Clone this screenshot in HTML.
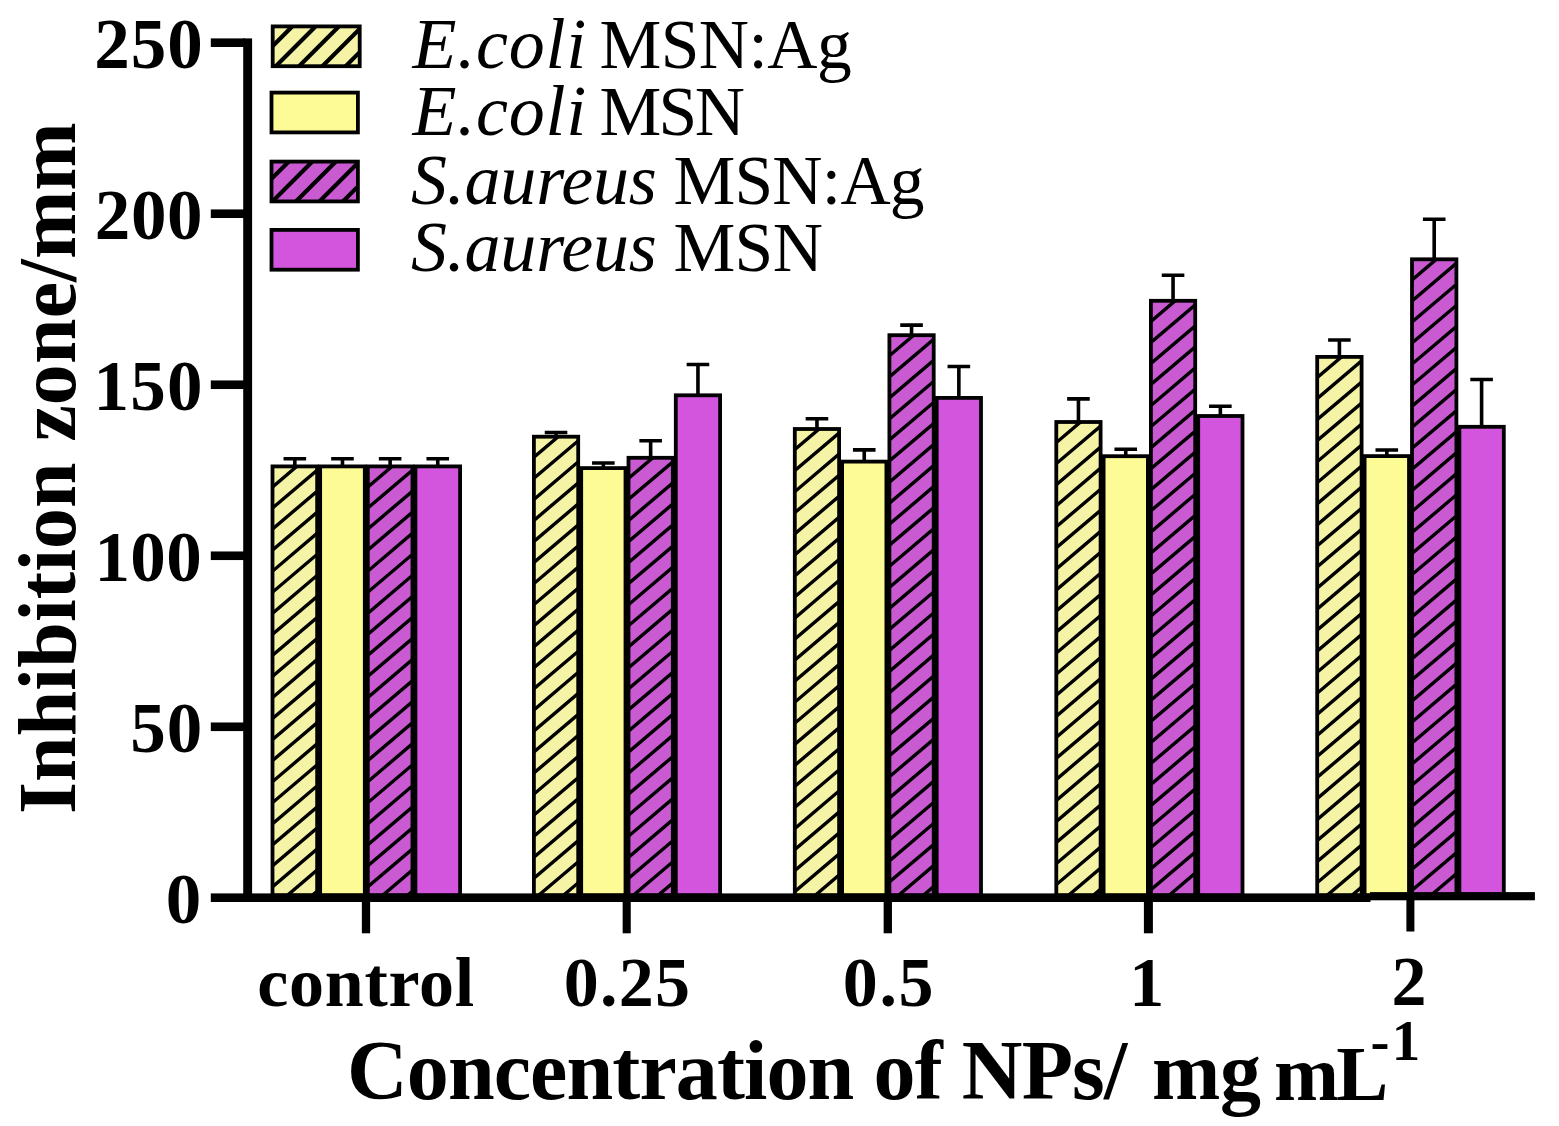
<!DOCTYPE html>
<html lang="en"><head><meta charset="utf-8"><title>Inhibition zone chart</title>
<style>html,body{margin:0;padding:0;background:#fff}body{width:1559px;height:1126px;overflow:hidden}svg{display:block}text{font-family:"Liberation Serif", "Times New Roman", Times, serif;fill:#000;white-space:pre}.b{font-weight:bold}.i{font-style:italic}</style>
</head><body>
<svg width="1559" height="1126" viewBox="0 0 1559 1126">
<defs>
<clipPath id="c00"><rect x="272.50" y="466.40" width="44.65" height="429.00"/></clipPath>
<clipPath id="c02"><rect x="367.80" y="466.40" width="44.65" height="429.00"/></clipPath>
<clipPath id="c10"><rect x="533.90" y="436.70" width="44.30" height="458.70"/></clipPath>
<clipPath id="c12"><rect x="628.50" y="457.80" width="44.30" height="437.60"/></clipPath>
<clipPath id="c20"><rect x="794.80" y="429.00" width="44.30" height="466.40"/></clipPath>
<clipPath id="c22"><rect x="889.40" y="335.20" width="44.30" height="560.20"/></clipPath>
<clipPath id="c30"><rect x="1056.30" y="422.00" width="44.30" height="473.40"/></clipPath>
<clipPath id="c32"><rect x="1150.90" y="300.80" width="44.30" height="594.60"/></clipPath>
<clipPath id="c40"><rect x="1317.20" y="356.90" width="44.40" height="538.50"/></clipPath>
<clipPath id="c42"><rect x="1412.00" y="259.30" width="44.40" height="636.10"/></clipPath>
<clipPath id="lc0"><rect x="272.70" y="26.40" width="87.00" height="39.80"/></clipPath>
<clipPath id="lc2"><rect x="271.50" y="161.60" width="86.40" height="39.80"/></clipPath>
</defs>
<rect width="1559" height="1126" fill="#fff"/>
<g clip-path="url(#c00)"><rect x="271.50" y="465.40" width="46.65" height="431.00" fill="#f5f3a6"/><path d="M268.5 469.3 L321.1 424.7 M268.5 490.4 L321.1 445.7 M268.5 511.4 L321.1 466.8 M268.5 532.5 L321.1 487.8 M268.5 553.5 L321.1 508.9 M268.5 574.6 L321.1 529.9 M268.5 595.6 L321.1 551.0 M268.5 616.7 L321.1 572.0 M268.5 637.7 L321.1 593.1 M268.5 658.8 L321.1 614.1 M268.5 679.8 L321.1 635.2 M268.5 700.9 L321.1 656.2 M268.5 721.9 L321.1 677.3 M268.5 743.0 L321.1 698.3 M268.5 764.0 L321.1 719.4 M268.5 785.1 L321.1 740.4 M268.5 806.1 L321.1 761.5 M268.5 827.2 L321.1 782.5 M268.5 848.2 L321.1 803.6 M268.5 869.3 L321.1 824.6 M268.5 890.3 L321.1 845.7 M268.5 911.4 L321.1 866.7 M268.5 932.4 L321.1 887.8" stroke="#000" stroke-width="3.4" fill="none"/></g>
<rect x="272.50" y="466.40" width="44.65" height="429.00" fill="none" stroke="#000" stroke-width="3.8"/>
<path d="M294.82 465.50 V458.70 M283.52 458.70 H306.12" stroke="#000" stroke-width="3.6" fill="none"/>
<rect x="320.15" y="466.40" width="44.65" height="429.00" fill="#fdfb95" stroke="#000" stroke-width="3.8"/>
<path d="M342.47 465.50 V458.70 M331.17 458.70 H353.77" stroke="#000" stroke-width="3.6" fill="none"/>
<g clip-path="url(#c02)"><rect x="366.80" y="465.40" width="46.65" height="431.00" fill="#c95ad2"/><path d="M363.8 469.3 L416.4 424.7 M363.8 490.4 L416.4 445.7 M363.8 511.4 L416.4 466.8 M363.8 532.5 L416.4 487.8 M363.8 553.5 L416.4 508.9 M363.8 574.6 L416.4 529.9 M363.8 595.6 L416.4 551.0 M363.8 616.7 L416.4 572.0 M363.8 637.7 L416.4 593.1 M363.8 658.8 L416.4 614.1 M363.8 679.8 L416.4 635.2 M363.8 700.9 L416.4 656.2 M363.8 721.9 L416.4 677.3 M363.8 743.0 L416.4 698.3 M363.8 764.0 L416.4 719.4 M363.8 785.1 L416.4 740.4 M363.8 806.1 L416.4 761.5 M363.8 827.2 L416.4 782.5 M363.8 848.2 L416.4 803.6 M363.8 869.3 L416.4 824.6 M363.8 890.3 L416.4 845.7 M363.8 911.4 L416.4 866.7 M363.8 932.4 L416.4 887.8" stroke="#000" stroke-width="3.4" fill="none"/></g>
<rect x="367.80" y="466.40" width="44.65" height="429.00" fill="none" stroke="#000" stroke-width="3.8"/>
<path d="M390.12 465.50 V458.70 M378.82 458.70 H401.43" stroke="#000" stroke-width="3.6" fill="none"/>
<rect x="415.45" y="466.40" width="44.65" height="429.00" fill="#d355de" stroke="#000" stroke-width="3.8"/>
<path d="M437.77 465.50 V458.70 M426.47 458.70 H449.07" stroke="#000" stroke-width="3.6" fill="none"/>
<g clip-path="url(#c10)"><rect x="532.90" y="435.70" width="46.30" height="460.70" fill="#f5f3a6"/><path d="M529.9 439.6 L582.2 395.3 M529.9 460.7 L582.2 416.3 M529.9 481.7 L582.2 437.4 M529.9 502.8 L582.2 458.4 M529.9 523.8 L582.2 479.5 M529.9 544.9 L582.2 500.5 M529.9 565.9 L582.2 521.6 M529.9 587.0 L582.2 542.6 M529.9 608.0 L582.2 563.7 M529.9 629.1 L582.2 584.7 M529.9 650.1 L582.2 605.8 M529.9 671.2 L582.2 626.8 M529.9 692.2 L582.2 647.9 M529.9 713.3 L582.2 668.9 M529.9 734.3 L582.2 690.0 M529.9 755.4 L582.2 711.0 M529.9 776.4 L582.2 732.1 M529.9 797.5 L582.2 753.1 M529.9 818.5 L582.2 774.2 M529.9 839.6 L582.2 795.2 M529.9 860.6 L582.2 816.3 M529.9 881.7 L582.2 837.3 M529.9 902.7 L582.2 858.4 M529.9 923.8 L582.2 879.4 M529.9 944.8 L582.2 900.5" stroke="#000" stroke-width="3.4" fill="none"/></g>
<rect x="533.90" y="436.70" width="44.30" height="458.70" fill="none" stroke="#000" stroke-width="3.8"/>
<path d="M556.05 435.80 V432.50 M544.75 432.50 H567.35" stroke="#000" stroke-width="3.6" fill="none"/>
<rect x="581.20" y="468.10" width="44.30" height="427.30" fill="#fdfb95" stroke="#000" stroke-width="3.8"/>
<path d="M603.35 467.20 V463.00 M592.05 463.00 H614.65" stroke="#000" stroke-width="3.6" fill="none"/>
<g clip-path="url(#c12)"><rect x="627.50" y="456.80" width="46.30" height="439.60" fill="#c95ad2"/><path d="M624.5 460.7 L676.8 416.4 M624.5 481.8 L676.8 437.4 M624.5 502.8 L676.8 458.5 M624.5 523.9 L676.8 479.5 M624.5 544.9 L676.8 500.6 M624.5 566.0 L676.8 521.6 M624.5 587.0 L676.8 542.7 M624.5 608.1 L676.8 563.7 M624.5 629.1 L676.8 584.8 M624.5 650.2 L676.8 605.8 M624.5 671.2 L676.8 626.9 M624.5 692.3 L676.8 647.9 M624.5 713.3 L676.8 669.0 M624.5 734.4 L676.8 690.0 M624.5 755.4 L676.8 711.1 M624.5 776.5 L676.8 732.1 M624.5 797.5 L676.8 753.2 M624.5 818.6 L676.8 774.2 M624.5 839.6 L676.8 795.3 M624.5 860.7 L676.8 816.3 M624.5 881.7 L676.8 837.4 M624.5 902.8 L676.8 858.4 M624.5 923.8 L676.8 879.5 M624.5 944.9 L676.8 900.5" stroke="#000" stroke-width="3.4" fill="none"/></g>
<rect x="628.50" y="457.80" width="44.30" height="437.60" fill="none" stroke="#000" stroke-width="3.8"/>
<path d="M650.65 456.90 V440.80 M639.35 440.80 H661.95" stroke="#000" stroke-width="3.6" fill="none"/>
<rect x="675.80" y="395.30" width="44.30" height="500.10" fill="#d355de" stroke="#000" stroke-width="3.8"/>
<path d="M697.95 394.40 V364.50 M686.65 364.50 H709.25" stroke="#000" stroke-width="3.6" fill="none"/>
<g clip-path="url(#c20)"><rect x="793.80" y="428.00" width="46.30" height="468.40" fill="#f5f3a6"/><path d="M790.8 431.9 L843.1 387.6 M790.8 453.0 L843.1 408.6 M790.8 474.0 L843.1 429.7 M790.8 495.1 L843.1 450.7 M790.8 516.1 L843.1 471.8 M790.8 537.2 L843.1 492.8 M790.8 558.2 L843.1 513.9 M790.8 579.3 L843.1 534.9 M790.8 600.3 L843.1 556.0 M790.8 621.4 L843.1 577.0 M790.8 642.4 L843.1 598.1 M790.8 663.5 L843.1 619.1 M790.8 684.5 L843.1 640.2 M790.8 705.6 L843.1 661.2 M790.8 726.6 L843.1 682.3 M790.8 747.7 L843.1 703.3 M790.8 768.7 L843.1 724.4 M790.8 789.8 L843.1 745.4 M790.8 810.8 L843.1 766.5 M790.8 831.9 L843.1 787.5 M790.8 852.9 L843.1 808.6 M790.8 874.0 L843.1 829.6 M790.8 895.0 L843.1 850.7 M790.8 916.1 L843.1 871.7 M790.8 937.1 L843.1 892.8" stroke="#000" stroke-width="3.4" fill="none"/></g>
<rect x="794.80" y="429.00" width="44.30" height="466.40" fill="none" stroke="#000" stroke-width="3.8"/>
<path d="M816.95 428.10 V418.70 M805.65 418.70 H828.25" stroke="#000" stroke-width="3.6" fill="none"/>
<rect x="842.10" y="461.60" width="44.30" height="433.80" fill="#fdfb95" stroke="#000" stroke-width="3.8"/>
<path d="M864.25 460.70 V449.90 M852.95 449.90 H875.55" stroke="#000" stroke-width="3.6" fill="none"/>
<g clip-path="url(#c22)"><rect x="888.40" y="334.20" width="46.30" height="562.20" fill="#c95ad2"/><path d="M885.4 338.1 L937.7 293.8 M885.4 359.2 L937.7 314.8 M885.4 380.2 L937.7 335.9 M885.4 401.3 L937.7 356.9 M885.4 422.3 L937.7 378.0 M885.4 443.4 L937.7 399.0 M885.4 464.4 L937.7 420.1 M885.4 485.5 L937.7 441.1 M885.4 506.5 L937.7 462.2 M885.4 527.6 L937.7 483.2 M885.4 548.6 L937.7 504.3 M885.4 569.7 L937.7 525.3 M885.4 590.7 L937.7 546.4 M885.4 611.8 L937.7 567.4 M885.4 632.8 L937.7 588.5 M885.4 653.9 L937.7 609.5 M885.4 674.9 L937.7 630.6 M885.4 696.0 L937.7 651.6 M885.4 717.0 L937.7 672.7 M885.4 738.1 L937.7 693.7 M885.4 759.1 L937.7 714.8 M885.4 780.2 L937.7 735.8 M885.4 801.2 L937.7 756.9 M885.4 822.3 L937.7 777.9 M885.4 843.3 L937.7 799.0 M885.4 864.4 L937.7 820.0 M885.4 885.4 L937.7 841.1 M885.4 906.5 L937.7 862.1 M885.4 927.5 L937.7 883.2 M885.4 948.6 L937.7 904.2" stroke="#000" stroke-width="3.4" fill="none"/></g>
<rect x="889.40" y="335.20" width="44.30" height="560.20" fill="none" stroke="#000" stroke-width="3.8"/>
<path d="M911.55 334.30 V325.10 M900.25 325.10 H922.85" stroke="#000" stroke-width="3.6" fill="none"/>
<rect x="936.70" y="397.90" width="44.30" height="497.50" fill="#d355de" stroke="#000" stroke-width="3.8"/>
<path d="M958.85 397.00 V366.50 M947.55 366.50 H970.15" stroke="#000" stroke-width="3.6" fill="none"/>
<g clip-path="url(#c30)"><rect x="1055.30" y="421.00" width="46.30" height="475.40" fill="#f5f3a6"/><path d="M1052.3 424.9 L1104.6 380.6 M1052.3 446.0 L1104.6 401.6 M1052.3 467.0 L1104.6 422.7 M1052.3 488.1 L1104.6 443.7 M1052.3 509.1 L1104.6 464.8 M1052.3 530.2 L1104.6 485.8 M1052.3 551.2 L1104.6 506.9 M1052.3 572.3 L1104.6 527.9 M1052.3 593.3 L1104.6 549.0 M1052.3 614.4 L1104.6 570.0 M1052.3 635.4 L1104.6 591.1 M1052.3 656.5 L1104.6 612.1 M1052.3 677.5 L1104.6 633.2 M1052.3 698.6 L1104.6 654.2 M1052.3 719.6 L1104.6 675.3 M1052.3 740.7 L1104.6 696.3 M1052.3 761.7 L1104.6 717.4 M1052.3 782.8 L1104.6 738.4 M1052.3 803.8 L1104.6 759.5 M1052.3 824.9 L1104.6 780.5 M1052.3 845.9 L1104.6 801.6 M1052.3 867.0 L1104.6 822.6 M1052.3 888.0 L1104.6 843.7 M1052.3 909.1 L1104.6 864.7 M1052.3 930.1 L1104.6 885.8 M1052.3 951.2 L1104.6 906.8" stroke="#000" stroke-width="3.4" fill="none"/></g>
<rect x="1056.30" y="422.00" width="44.30" height="473.40" fill="none" stroke="#000" stroke-width="3.8"/>
<path d="M1078.45 421.10 V398.90 M1067.15 398.90 H1089.75" stroke="#000" stroke-width="3.6" fill="none"/>
<rect x="1103.60" y="456.20" width="44.30" height="439.20" fill="#fdfb95" stroke="#000" stroke-width="3.8"/>
<path d="M1125.75 455.30 V449.20 M1114.45 449.20 H1137.05" stroke="#000" stroke-width="3.6" fill="none"/>
<g clip-path="url(#c32)"><rect x="1149.90" y="299.80" width="46.30" height="596.60" fill="#c95ad2"/><path d="M1146.9 303.7 L1199.2 259.4 M1146.9 324.8 L1199.2 280.4 M1146.9 345.8 L1199.2 301.5 M1146.9 366.9 L1199.2 322.5 M1146.9 387.9 L1199.2 343.6 M1146.9 409.0 L1199.2 364.6 M1146.9 430.0 L1199.2 385.7 M1146.9 451.1 L1199.2 406.7 M1146.9 472.1 L1199.2 427.8 M1146.9 493.2 L1199.2 448.8 M1146.9 514.2 L1199.2 469.9 M1146.9 535.3 L1199.2 490.9 M1146.9 556.3 L1199.2 512.0 M1146.9 577.4 L1199.2 533.0 M1146.9 598.4 L1199.2 554.1 M1146.9 619.5 L1199.2 575.1 M1146.9 640.5 L1199.2 596.2 M1146.9 661.6 L1199.2 617.2 M1146.9 682.6 L1199.2 638.3 M1146.9 703.7 L1199.2 659.3 M1146.9 724.7 L1199.2 680.4 M1146.9 745.8 L1199.2 701.4 M1146.9 766.8 L1199.2 722.5 M1146.9 787.9 L1199.2 743.5 M1146.9 808.9 L1199.2 764.6 M1146.9 830.0 L1199.2 785.6 M1146.9 851.0 L1199.2 806.7 M1146.9 872.1 L1199.2 827.7 M1146.9 893.1 L1199.2 848.8 M1146.9 914.2 L1199.2 869.8 M1146.9 935.2 L1199.2 890.9" stroke="#000" stroke-width="3.4" fill="none"/></g>
<rect x="1150.90" y="300.80" width="44.30" height="594.60" fill="none" stroke="#000" stroke-width="3.8"/>
<path d="M1173.05 299.90 V275.20 M1161.75 275.20 H1184.35" stroke="#000" stroke-width="3.6" fill="none"/>
<rect x="1198.20" y="416.00" width="44.30" height="479.40" fill="#d355de" stroke="#000" stroke-width="3.8"/>
<path d="M1220.35 415.10 V406.30 M1209.05 406.30 H1231.65" stroke="#000" stroke-width="3.6" fill="none"/>
<g clip-path="url(#c40)"><rect x="1316.20" y="355.90" width="46.40" height="540.50" fill="#f5f3a6"/><path d="M1313.2 359.8 L1365.6 315.4 M1313.2 380.9 L1365.6 336.5 M1313.2 401.9 L1365.6 357.5 M1313.2 423.0 L1365.6 378.6 M1313.2 444.0 L1365.6 399.6 M1313.2 465.1 L1365.6 420.7 M1313.2 486.1 L1365.6 441.7 M1313.2 507.2 L1365.6 462.8 M1313.2 528.2 L1365.6 483.8 M1313.2 549.3 L1365.6 504.9 M1313.2 570.3 L1365.6 525.9 M1313.2 591.4 L1365.6 547.0 M1313.2 612.4 L1365.6 568.0 M1313.2 633.5 L1365.6 589.1 M1313.2 654.5 L1365.6 610.1 M1313.2 675.6 L1365.6 631.2 M1313.2 696.6 L1365.6 652.2 M1313.2 717.7 L1365.6 673.3 M1313.2 738.7 L1365.6 694.3 M1313.2 759.8 L1365.6 715.4 M1313.2 780.8 L1365.6 736.4 M1313.2 801.9 L1365.6 757.5 M1313.2 822.9 L1365.6 778.5 M1313.2 844.0 L1365.6 799.6 M1313.2 865.0 L1365.6 820.6 M1313.2 886.1 L1365.6 841.7 M1313.2 907.1 L1365.6 862.7 M1313.2 928.2 L1365.6 883.8 M1313.2 949.2 L1365.6 904.8" stroke="#000" stroke-width="3.4" fill="none"/></g>
<rect x="1317.20" y="356.90" width="44.40" height="538.50" fill="none" stroke="#000" stroke-width="3.8"/>
<path d="M1339.40 356.00 V340.00 M1328.10 340.00 H1350.70" stroke="#000" stroke-width="3.6" fill="none"/>
<rect x="1364.60" y="456.10" width="44.40" height="439.30" fill="#fdfb95" stroke="#000" stroke-width="3.8"/>
<path d="M1386.80 455.20 V450.00 M1375.50 450.00 H1398.10" stroke="#000" stroke-width="3.6" fill="none"/>
<g clip-path="url(#c42)"><rect x="1411.00" y="258.30" width="46.40" height="638.10" fill="#c95ad2"/><path d="M1408.0 262.2 L1460.4 217.8 M1408.0 283.3 L1460.4 238.9 M1408.0 304.3 L1460.4 259.9 M1408.0 325.4 L1460.4 281.0 M1408.0 346.4 L1460.4 302.0 M1408.0 367.5 L1460.4 323.1 M1408.0 388.5 L1460.4 344.1 M1408.0 409.6 L1460.4 365.2 M1408.0 430.6 L1460.4 386.2 M1408.0 451.7 L1460.4 407.3 M1408.0 472.7 L1460.4 428.3 M1408.0 493.8 L1460.4 449.4 M1408.0 514.8 L1460.4 470.4 M1408.0 535.9 L1460.4 491.5 M1408.0 556.9 L1460.4 512.5 M1408.0 578.0 L1460.4 533.6 M1408.0 599.0 L1460.4 554.6 M1408.0 620.1 L1460.4 575.7 M1408.0 641.1 L1460.4 596.7 M1408.0 662.2 L1460.4 617.8 M1408.0 683.2 L1460.4 638.8 M1408.0 704.3 L1460.4 659.9 M1408.0 725.3 L1460.4 680.9 M1408.0 746.4 L1460.4 702.0 M1408.0 767.4 L1460.4 723.0 M1408.0 788.5 L1460.4 744.1 M1408.0 809.5 L1460.4 765.1 M1408.0 830.6 L1460.4 786.2 M1408.0 851.6 L1460.4 807.2 M1408.0 872.7 L1460.4 828.3 M1408.0 893.7 L1460.4 849.3 M1408.0 914.8 L1460.4 870.4 M1408.0 935.8 L1460.4 891.4" stroke="#000" stroke-width="3.4" fill="none"/></g>
<rect x="1412.00" y="259.30" width="44.40" height="636.10" fill="none" stroke="#000" stroke-width="3.8"/>
<path d="M1434.20 258.40 V219.20 M1422.90 219.20 H1445.50" stroke="#000" stroke-width="3.6" fill="none"/>
<rect x="1459.40" y="426.80" width="44.40" height="468.60" fill="#d355de" stroke="#000" stroke-width="3.8"/>
<path d="M1481.60 425.90 V379.50 M1470.30 379.50 H1492.90" stroke="#000" stroke-width="3.6" fill="none"/>
<rect x="243.2" y="38.4" width="8.9" height="863.6" fill="#000"/>
<rect x="210.8" y="893.4" width="1159.7" height="8.6" fill="#000"/>
<rect x="1370" y="892.1" width="164.9" height="8.2" fill="#000"/>
<rect x="210.8" y="722.48" width="34" height="8.6" fill="#000"/>
<rect x="210.8" y="551.46" width="34" height="8.6" fill="#000"/>
<rect x="210.8" y="380.44" width="34" height="8.6" fill="#000"/>
<rect x="210.8" y="209.42" width="34" height="8.6" fill="#000"/>
<rect x="210.8" y="38.40" width="34" height="8.6" fill="#000"/>
<rect x="361.85" y="897" width="8.3" height="36.3" fill="#000"/>
<rect x="622.65" y="897" width="8.1" height="36.3" fill="#000"/>
<rect x="883.65" y="897" width="8.3" height="36.3" fill="#000"/>
<rect x="1143.90" y="897" width="9" height="36.3" fill="#000"/>
<rect x="1406.40" y="897" width="8" height="34.5" fill="#000"/>
<g clip-path="url(#lc0)"><rect x="271.70" y="25.40" width="89.00" height="41.80" fill="#f5f3a6"/><path d="M268.7 26.7 L363.7 -68.3 M268.7 50.0 L363.7 -45.0 M268.7 73.3 L363.7 -21.7 M268.7 96.6 L363.7 1.6 M268.7 119.9 L363.7 24.9 M268.7 143.2 L363.7 48.2 M268.7 166.5 L363.7 71.5" stroke="#000" stroke-width="4.2" fill="none"/></g>
<rect x="272.70" y="26.40" width="87.00" height="39.80" fill="none" stroke="#000" stroke-width="3.8"/>
<rect x="271.50" y="92.60" width="86.40" height="39.80" fill="#fdfb95" stroke="#000" stroke-width="3.8"/>
<g clip-path="url(#lc2)"><rect x="270.50" y="160.60" width="88.40" height="41.80" fill="#c95ad2"/><path d="M267.5 159.4 L361.9 65.0 M267.5 182.9 L361.9 88.5 M267.5 206.4 L361.9 112.0 M267.5 229.9 L361.9 135.5 M267.5 253.4 L361.9 159.0 M267.5 276.9 L361.9 182.5 M267.5 300.4 L361.9 206.0" stroke="#000" stroke-width="4.2" fill="none"/></g>
<rect x="271.50" y="161.60" width="86.40" height="39.80" fill="none" stroke="#000" stroke-width="3.8"/>
<rect x="271.50" y="229.90" width="86.40" height="39.80" fill="#d355de" stroke="#000" stroke-width="3.8"/>
<text id="y250" class="b" x="94.20" y="67.70" font-size="71" letter-spacing="1.000">250</text>
<text id="y200" class="b" x="94.80" y="238.72" font-size="71" letter-spacing="0.600">200</text>
<text id="y150" class="b" x="93.60" y="409.74" font-size="71" letter-spacing="1.150">150</text>
<text id="y100" class="b" x="94.40" y="580.76" font-size="71" letter-spacing="0.450">100</text>
<text id="y50" class="b" x="130.20" y="751.78" font-size="71" letter-spacing="1.000">50</text>
<text id="y0" class="b" x="165.80" y="922.80" font-size="71" letter-spacing="0.000">0</text>
<text id="xc" class="b" x="257.20" y="1006.30" font-size="70" letter-spacing="0.733">control</text>
<text id="x025" class="b" x="563.80" y="1006.30" font-size="70" letter-spacing="1.200">0.25</text>
<text id="x05" class="b" x="842.80" y="1006.30" font-size="70" letter-spacing="1.650">0.5</text>
<text id="x1" class="b" x="1129.30" y="1006.30" font-size="70" letter-spacing="0.000">1</text>
<text id="x2" class="b" x="1391.60" y="1005.20" font-size="70" letter-spacing="0.000">2</text>
<text id="yt" class="b" transform="translate(75.00 814.00) rotate(-90)" font-size="82" letter-spacing="0.082">Inhibition zone/mm</text>
<text font-size="10"><tspan id="xt1" class="b" x="347.00" y="1098.70" font-size="84" letter-spacing="-0.885">Concentration of NPs/</tspan> <tspan id="xt2" class="b" x="1152.00" y="1098.60" font-size="82" letter-spacing="-0.200">mg</tspan> <tspan id="xt3" class="b" x="1274.00" y="1100.00" font-size="78" letter-spacing="-2.700">mL</tspan><tspan id="sup1" class="b" x="1370.55" y="1060.30" font-size="57" letter-spacing="0.000">-</tspan><tspan id="sup2" class="b" x="1391.80" y="1060.30" font-size="57" letter-spacing="0.000">1</tspan></text>
<text font-size="10"><tspan id="l1i" class="i" x="412.40" y="67.50" font-size="72" letter-spacing="0.800">E.coli</tspan> <tspan id="l1r" x="599.40" y="67.50" font-size="69.5" letter-spacing="-0.520">MSN:Ag</tspan></text>
<text font-size="10"><tspan id="l2i" class="i" x="412.40" y="134.80" font-size="72" letter-spacing="0.800">E.coli</tspan> <tspan id="l2r" x="599.40" y="134.80" font-size="69.5" letter-spacing="-2.600">MSN</tspan></text>
<text font-size="10"><tspan id="l3i" class="i" x="411.00" y="203.90" font-size="72" letter-spacing="-0.214">S.aureus</tspan> <tspan id="l3r" x="673.40" y="203.90" font-size="69.5" letter-spacing="-0.740">MSN:Ag</tspan></text>
<text font-size="10"><tspan id="l4i" class="i" x="411.00" y="271.00" font-size="72" letter-spacing="-0.214">S.aureus</tspan> <tspan id="l4r" x="673.40" y="271.00" font-size="69.5" letter-spacing="-0.600">MSN</tspan></text>
</svg>
</body></html>
